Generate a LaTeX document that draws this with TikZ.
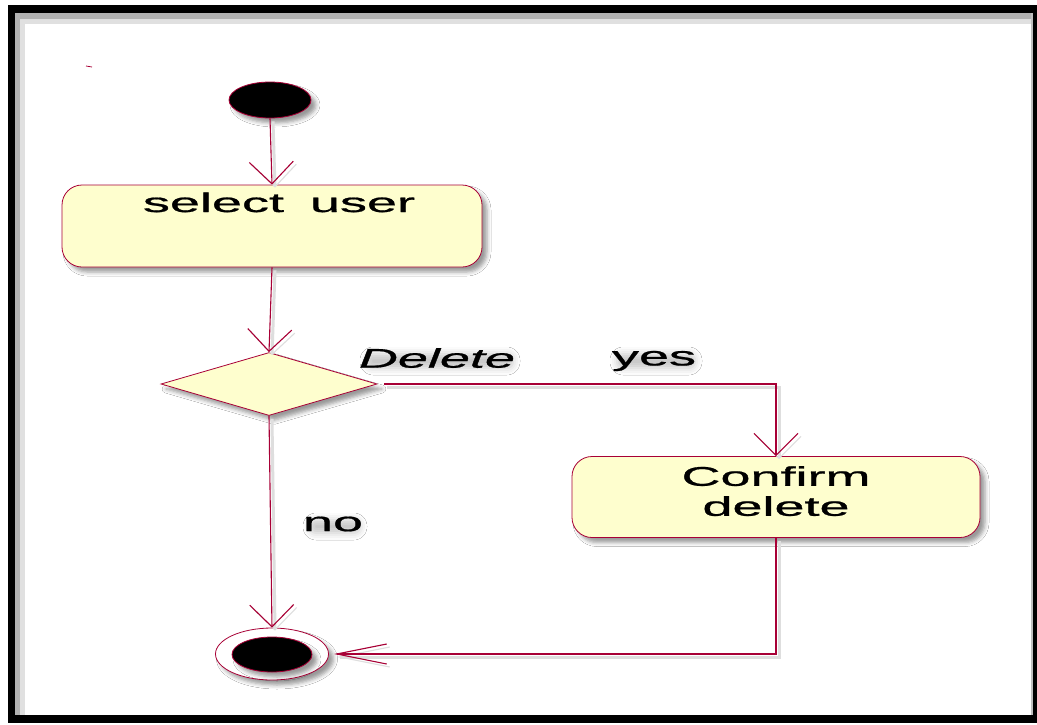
\documentclass[tikz,border=0pt]{standalone}
\usepackage{fontspec}
\setmainfont{Liberation Sans}[FakeBold=0.7]
\usetikzlibrary{shapes.geometric,arrows.meta,shadows.blur,calc}
\definecolor{umlred}{HTML}{A80036}
\definecolor{umlfill}{HTML}{FEFECE}
\newcommand\wtxt[1]{\scalebox{2}[1]{#1}}
\begin{document}
\begin{tikzpicture}[x=1pt,y=-1pt,
  txt/.style={font=\fontsize{27}{30}\selectfont, text=black},
  shd/.style={blur shadow={shadow xshift=5pt, shadow yshift=-5pt, shadow opacity=40, shadow blur radius=4pt}},
  act/.style={draw=umlred, fill=umlfill, rounded corners=20pt, line width=0.8pt, shd, txt, inner sep=0pt},
  conn/.style={draw=umlred, line width=1.1pt,
    preaction={draw=black!13, line width=3pt, transform canvas={shift={(3pt,-3pt)}}},
    -{Straight Barb[length=22pt,width=44pt,line width=1.1pt]}},
  glow/.style={rounded corners=6pt, blur shadow={shadow xshift=1pt, shadow yshift=-2pt, shadow opacity=22, shadow blur radius=7pt}},
  lbl/.style={txt, inner sep=1pt}
]
\useasboundingbox (0,0) rectangle (1037,724);
% frame
\fill[white] (0,0) rectangle (1037,724);
\fill[black] (8,5) rectangle (1037,723);
\fill[white] (15,13) rectangle (1033,715);
\fill[black!30] (15,13) rectangle (1033,19);
\fill[black!12] (15,19) rectangle (1033,24);
\fill[black!30] (15,13) rectangle (20,715);
\fill[black!12] (20,19) rectangle (25,715);
\fill[black!25] (1031,13) rectangle (1033,715);
% stray mark
\draw[umlred, line width=0.8pt] (86,66) -- (92,67);

% nodes
\node[ellipse, draw=umlred, fill=black, line width=0.8pt, minimum width=82pt, minimum height=36pt, inner sep=0pt, shd] (start) at (270,100) {};
\node[act, minimum width=420pt, minimum height=82pt, text height=10pt, text depth=38pt] (sel) at (272,226) {\hspace*{14pt}\wtxt{select\hspace{13pt}user}};
\node[diamond, draw=umlred, fill=umlfill, line width=0.8pt, minimum width=216pt, minimum height=63pt, inner sep=0pt, shd] (dia) at (269,384) {};
\node[act, minimum width=408pt, minimum height=81pt] (conf) at (776,497) {\raisebox{-4pt}[0pt][0pt]{\begin{tabular}{@{}c@{}}\wtxt{Confirm}\\\wtxt{delete}\end{tabular}}};
\node[ellipse, draw=umlred, fill=white, line width=0.8pt, minimum width=113pt, minimum height=52pt, inner sep=0pt, shd] (final) at (272,654) {};
\node[ellipse, draw=umlred, fill=black, line width=0.8pt, minimum width=80pt, minimum height=35pt, inner sep=0pt, shd] (finalin) at (272,654.5) {};

% labels
\path[glow] (366,352) rectangle (512,366);
\path[glow] (616,352) rectangle (694,366);
\path[glow] (309,518) rectangle (359,531);
\node[lbl] (ldel) at (437,358) {\itshape\wtxt{Delete}};
\node[lbl] (lyes) at (654,361) {\wtxt{yes}};
\node[lbl] (lno) at (333,524) {\wtxt{no}};

% connectors
\draw[conn] (start.south) -- (sel.north);
\draw[conn] (sel.south) -- (dia.north);
\draw[conn, shorten <=7pt] (dia.east) -| (conf.north);
\draw[conn] (dia.south) -- (final.north);
\draw[draw=umlred, line width=1.1pt,
    preaction={draw=black!13, line width=3pt, transform canvas={shift={(3pt,-3pt)}}},
    -{Straight Barb[length=50pt,width=20pt,line width=1.1pt]}, shorten >=5pt] (conf.south) |- (final.east);
\end{tikzpicture}
\end{document}
